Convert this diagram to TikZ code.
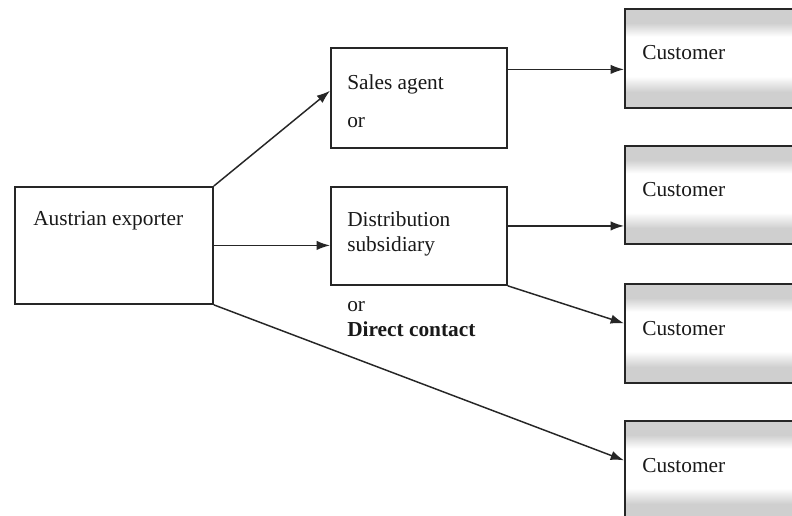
\documentclass[tikz,border=0pt]{standalone}
\usepackage{fontspec}
\setmainfont{Liberation Serif}
\usetikzlibrary{arrows.meta,calc}
\pgfdeclareverticalshading{custshade}{100bp}{color(0bp)=(black!19); color(33bp)=(black!19); color(41bp)=(white); color(61bp)=(white); color(68bp)=(black!19); color(100bp)=(black!19)}
\begin{document}
\begin{tikzpicture}[x=0.75pt,y=-0.75pt,
  box/.style={draw=black!85,line width=1.4pt,rectangle,inner sep=0pt,anchor=north west},
  cust/.style={box,shading=custshade,minimum width=132pt},
  lbl/.style={anchor=base west,inner sep=0pt,font=\fontsize{16pt}{18pt}\selectfont,text=black!90},
  arr/.style={draw=black!85,line width=1.1pt,-{Latex[length=10pt,width=7pt]}}]
\clip (0,0) rectangle (792,516);
\fill[white] (0,0) rectangle (792,516);
% boxes
\node[box,minimum width=148.5pt,minimum height=87.75pt] (exp) at (14,186) {};
\node[box,minimum width=132pt,minimum height=75pt] (sa) at (330,47) {};
\node[box,minimum width=132pt,minimum height=73.5pt] (ds) at (330,186) {};
\node[cust,minimum height=74.25pt] (c1) at (624,8) {};
\node[cust,minimum height=73.5pt] (c2) at (624,145) {};
\node[cust,minimum height=74.25pt] (c3) at (624,283) {};
\node[cust,minimum height=74.25pt] (c4) at (624,420) {};
% texts
\node[lbl] (t1) at (33,226) {Austrian exporter};
\node[lbl] (t2) at (347,90) {Sales agent};
\node[lbl] (t3) at (347,128) {or};
\node[lbl] (t4) at (347,227) {Distribution};
\node[lbl] (t5) at (347,252) {subsidiary};
\node[lbl] (t6) at (347,312) {or};
\node[lbl,font=\fontsize{16pt}{18pt}\selectfont\bfseries] (t7) at (347,337) {Direct contact};
\node[lbl] (u1) at (642,60) {Customer};
\node[lbl] (u2) at (642,197) {Customer};
\node[lbl] (u3) at (642,335) {Customer};
\node[lbl] (u4) at (642,472) {Customer};
% connector end points
\coordinate (saIn) at ($(sa.north west)!0.43!(sa.south west)$);
\coordinate (saOut) at ($(sa.north east)!0.22!(sa.south east)$);
\coordinate (dsOut) at ($(ds.north east)!0.4!(ds.south east)$);
\coordinate (c3In) at ($(c3.north west)!0.4!(c3.south west)$);
\coordinate (c4In) at ($(c4.north west)!0.4!(c4.south west)$);
% connectors
\draw[arr] (exp.north east) -- (saIn);
\draw[arr] (exp.east) -- (ds.west |- exp.east);
\draw[arr] (exp.south east) -- (c4In);
\draw[arr] (saOut) -- (c1.west |- saOut);
\draw[arr] (dsOut) -- (c2.west |- dsOut);
\draw[arr] (ds.south east) -- (c3In);
\end{tikzpicture}
\end{document}
